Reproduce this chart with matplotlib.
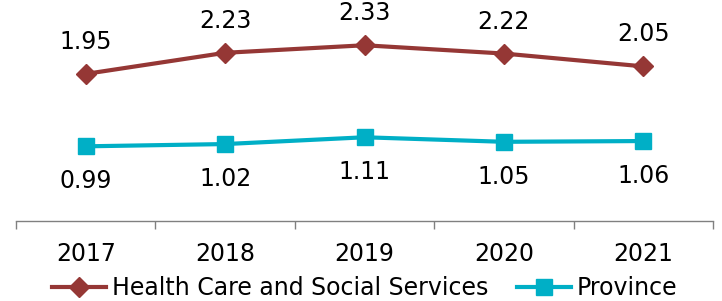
import matplotlib
matplotlib.use("Agg")
import matplotlib.pyplot as plt

# data
years = ["2017", "2018", "2019", "2020", "2021"]
health = [1.95, 2.23, 2.33, 2.22, 2.05]
province = [0.99, 1.02, 1.11, 1.05, 1.06]

plt.rcParams['font.family'] = ['DejaVu Sans']

fig = plt.figure(figsize=(7.22, 3.01), dpi=100)
ax = fig.add_axes([16/722, 80/301, 697/722, 221/301])

red = "#953735"
teal = "#00AFC6"
x = list(range(len(years)))

ax.plot(x, health, color=red, lw=3, marker="D", ms=10.5, label="Health Care and Social Services")
ax.plot(x, province, color=teal, lw=3, marker="s", ms=11, label="Province")

for xi, v in zip(x, health):
    ax.annotate(f"{v:.2f}", (xi, v), xytext=(0, 23), textcoords="offset points",
                ha="center", va="center", fontsize=17)
for xi, v in zip(x, province):
    ax.annotate(f"{v:.2f}", (xi, v), xytext=(0, -25), textcoords="offset points",
                ha="center", va="center", fontsize=17)

ax.set_xlim(-0.5, 4.5)
ax.set_ylim(0, 2.93)
ax.set_xticks(x)
ax.set_xticklabels(years, fontsize=17)
ax.set_xticks([i - 0.5 for i in range(len(years) + 1)], minor=True)
ax.tick_params(axis="x", which="major", length=0, pad=15)
ax.tick_params(axis="x", which="minor", length=6, color="#808080", width=1)
ax.set_yticks([])
for s in ["top", "right", "left"]:
    ax.spines[s].set_visible(False)
ax.spines["bottom"].set_color("#808080")
ax.spines["bottom"].set_linewidth(1)

fig.legend(loc="center", bbox_to_anchor=(0.505, 13/301), ncol=2, frameon=False,
           fontsize=17, handlelength=2.3, handletextpad=0.25, columnspacing=1.2,
           borderpad=0)

fig.savefig("out.png", dpi=100)
